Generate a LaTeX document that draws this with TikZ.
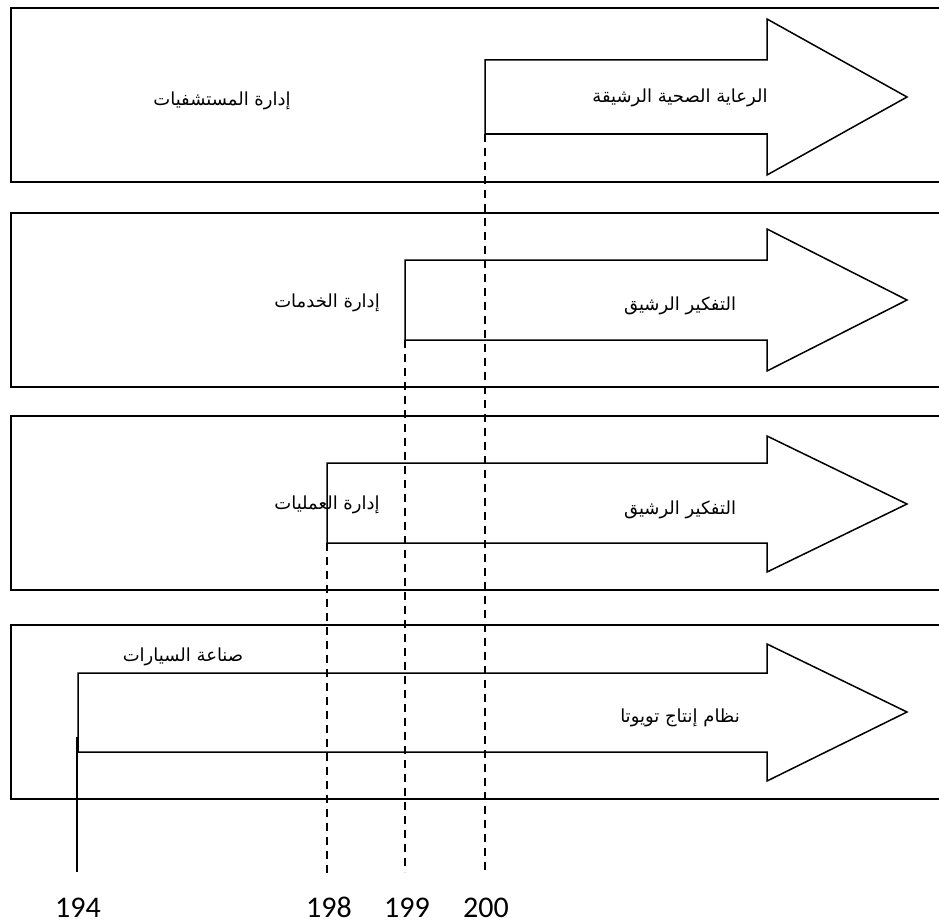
\documentclass[tikz,border=0pt]{standalone}
\usepackage{fontspec}
\newfontfamily\arabicfont[Script=Arabic]{DejaVu Sans}
\newfontfamily\numfont{Carlito}
\TeXXeTstate=1

\begin{document}
\begin{tikzpicture}[
            x=1pt, y=-1pt,
            band/.style={line width=1.8pt},
            flow/.style={draw, line width=1.5pt, line join=miter},
            guide/.style={line width=1.2pt, dash pattern=on 8pt off 6pt},
            solidguide/.style={line width=1.2pt},
            label/.style={font=\arabicfont\fontsize{18}{22}\selectfont, inner sep=0pt},
            year/.style={font=\numfont\fontsize{30}{36}\selectfont, inner sep=0pt, anchor=base}
        ]
            \useasboundingbox (0,0) rectangle (939,923);

% Bands (open at the right edge)
            \draw[band] (939,8) -- (11,8) -- (11,182) -- (939,182);
            \draw[band] (939,213) -- (11,213) -- (11,387) -- (939,387);
            \draw[band] (939,416) -- (11,416) -- (11,590) -- (939,590);
            \draw[band] (939,625) -- (11,625) -- (11,799) -- (939,799);

% Block arrows
            \draw[flow] (485,60) -- (767,60) -- (767,19) -- (907,97) -- (767,175) -- (767,134) -- (485,134) -- cycle;
            \draw[flow] (405,260) -- (767,260) -- (767,229) -- (907,300) -- (767,371) -- (767,340) -- (405,340) -- cycle;
            \draw[flow] (327,463) -- (767,463) -- (767,436) -- (907,504) -- (767,572) -- (767,543) -- (327,543) -- cycle;
            \draw[flow] (78,673) -- (767,673) -- (767,644) -- (907,712) -- (767,781) -- (767,752) -- (78,752) -- cycle;

% Start corners and line ends
            \coordinate (t200) at (485,134);
            \coordinate (t199) at (405,340);
            \coordinate (t198) at (327,543);
            \coordinate (t194) at (77,737);
            \coordinate (e200) at (485,870);
            \coordinate (e199) at (405,872);
            \coordinate (e198) at (327,874);
            \coordinate (e194) at (77,872);

% Band labels
            \node[label] (hospitals) at (222,101) {\beginR إدارة المستشفيات\endR};
            \node[label] (services) at (327,303) {\beginR إدارة الخدمات\endR};
            \node[label] (operations) at (327,505) {\beginR إدارة العمليات\endR};
            \node[label] (cars) at (183,657) {\beginR صناعة السيارات\endR};

% Arrow labels
            \node[label] (leanhealth) at (680,98) {\beginR الرعاية الصحية الرشيقة\endR};
            \node[label] (leanserv) at (680,306) {\beginR التفكير الرشيق\endR};
            \node[label] (leanops) at (680,510) {\beginR التفكير الرشيق\endR};
            \node[label] (tps) at (680,718) {\beginR نظام إنتاج تويوتا\endR};

% Years
            \node[year] (y194) at (78,917) {194};
            \node[year] (y198) at (329,917) {198};
            \node[year] (y199) at (407,917) {199};
            \node[year] (y200) at (486,917) {200};

% Time lines
            \draw[solidguide] (t194) -- (e194);
            \draw[guide] (t198) -- (e198);
            \draw[guide] (t199) -- (e199);
            \draw[guide] (t200) -- (e200);

        \end{tikzpicture}
\end{document}
